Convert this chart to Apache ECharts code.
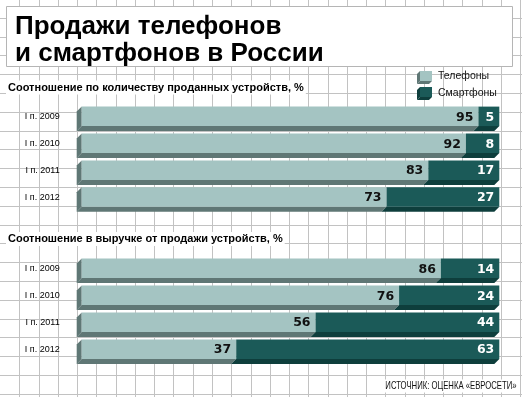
<!DOCTYPE html>
<html>
<head>
<meta charset="utf-8">
<script src="https://cdn.jsdelivr.net/npm/echarts@6/dist/echarts.min.js"></script>
<style>html,body{margin:0;padding:0;background:#fff}#c{width:522px;height:397px}</style>
</head>
<body>
<div id="c"></div>
<script>
const categories = ['I п. 2009', 'I п. 2010', 'I п. 2011', 'I п. 2012'];
const qtyPhones = [95, 92, 83, 73];
const qtySmart = [5, 8, 17, 27];
const revPhones = [86, 76, 56, 37];
const revSmart = [14, 24, 44, 63];
const seriesNames = ['Телефоны', 'Смартфоны'];
const titleText = 'Продажи телефонов\nи смартфонов в России';
const subtitle1 = 'Соотношение по количеству проданных устройств, %';
const subtitle2 = 'Соотношение в выручке от продажи устройств, %';
const sourceText = 'ИСТОЧНИК: ОЦЕНКА «ЕВРОСЕТИ»';

const LIGHT = {face: '#a4c4c2', shade: '#5f7775', text: '#111'};
const DARK = {face: '#1b5a58', shade: '#0e3e3c', text: '#fff'};
const DEPTH = 5;

function segData(starts, vals) {
  return vals.map((v, i) => [starts[i], starts[i] + v, i, v]);
}

function makeRender(col) {
  return function (params, api) {
    const s = api.value(0), e = api.value(1), c = api.value(2), v = api.value(3);
    const a = api.coord([s, c]);
    const b = api.coord([e, c]);
    const band = api.size([0, 1])[1];
    const h = band * 0.725;
    const yt = a[1] - h / 2, yb = yt + h;
    const d = DEPTH;
    const children = [];
    if (s === 0) {
      children.push({type: 'polygon', shape: {points: [[a[0], yt], [a[0], yb], [a[0] - d, yb + d], [a[0] - d, yt + d]]}, style: {fill: col.shade}});
    }
    children.push({type: 'polygon', shape: {points: [[a[0], yb], [b[0], yb], [b[0] - d, yb + d], [a[0] - d, yb + d]]}, style: {fill: col.shade}});
    children.push({type: 'rect', shape: {x: a[0], y: yt, width: b[0] - a[0], height: h}, style: {fill: col.face}});
    children.push({type: 'text', style: {text: String(v), x: b[0] - 5, y: (yt + yb) / 2 + 1, align: 'right', verticalAlign: 'middle', fill: col.text, fontSize: 12.5, fontWeight: 'bold', fontFamily: 'DejaVu Sans'}});
    return {type: 'group', children: children};
  };
}

const graphics = [];
for (let k = 1; k <= 27; k++) {
  const x = Math.round(19.27 * k) + 0.5;
  graphics.push({type: 'line', silent: true, shape: {x1: x, y1: 0, x2: x, y2: 397}, style: {stroke: '#c2c2c2', lineWidth: 1}});
}
for (let k = 0; k <= 20; k++) {
  const y = Math.floor(18.3 + 18.8 * k) + 0.5;
  graphics.push({type: 'line', silent: true, shape: {x1: 0, y1: y, x2: 522, y2: y}, style: {stroke: '#c2c2c2', lineWidth: 1}});
}
graphics.push({type: 'rect', silent: true, shape: {x: 6.5, y: 6.5, width: 506, height: 60}, style: {fill: '#fff', stroke: '#b5b5b5', lineWidth: 1}});
function legendIcon(y, col) {
  return [
    {type: 'polygon', shape: {points: [[420, y], [420, y + 10], [417, y + 13], [417, y + 3]]}, style: {fill: col.shade}},
    {type: 'polygon', shape: {points: [[420, y + 10], [432, y + 10], [429, y + 13], [417, y + 13]]}, style: {fill: col.shade}},
    {type: 'rect', shape: {x: 420, y: y, width: 12, height: 10}, style: {fill: col.face}}
  ];
}
graphics.push(...legendIcon(71, LIGHT));
graphics.push(...legendIcon(87, DARK));
graphics.push({type: 'text', x: 438, y: 76.5, style: {text: seriesNames[0], fill: '#111', fontSize: 10.5, fontFamily: 'Liberation Sans', verticalAlign: 'middle'}});
graphics.push({type: 'text', x: 438, y: 93, style: {text: seriesNames[1], fill: '#111', fontSize: 10.5, fontFamily: 'Liberation Sans', verticalAlign: 'middle'}});
graphics.push({type: 'text', x: 518, y: 386, scaleX: 0.735, style: {text: sourceText, x: 0, y: 0, fill: '#111', fontSize: 10.5, fontFamily: 'Liberation Sans', align: 'right', verticalAlign: 'middle', backgroundColor: '#fff', padding: [1, 2]}});

const chart = echarts.init(document.getElementById('c'), null, {renderer: 'canvas'});
const yAxisBase = {
  type: 'category', data: categories, inverse: true,
  axisLine: {show: false}, axisTick: {show: false}, splitLine: {show: false},
  axisLabel: {margin: 22, fontSize: 9, color: '#000', fontFamily: 'Liberation Sans'}
};
const xAxisBase = {type: 'value', min: 0, max: 100, show: false};
chart.setOption({
  animation: false,
  backgroundColor: '#fff',
  title: [
    {text: titleText, left: 15, top: 13.5, padding: 0, textStyle: {fontFamily: 'Liberation Sans', fontWeight: 'bold', fontSize: 26, lineHeight: 27, color: '#000'}},
    {text: subtitle1, left: 6, top: 80.5, padding: [1, 2], backgroundColor: '#fff', textStyle: {fontFamily: 'Liberation Sans', fontWeight: 'bold', fontSize: 11, lineHeight: 12, color: '#000'}},
    {text: subtitle2, left: 6, top: 232, padding: [1, 2], backgroundColor: '#fff', textStyle: {fontFamily: 'Liberation Sans', fontWeight: 'bold', fontSize: 11, lineHeight: 12, color: '#000'}}
  ],
  graphic: {elements: graphics},
  grid: [
    {left: 81.7, right: 22.7, top: 102.9, height: 107.6},
    {left: 81.7, right: 22.7, top: 254.8, height: 107.9}
  ],
  xAxis: [Object.assign({gridIndex: 0}, xAxisBase), Object.assign({gridIndex: 1}, xAxisBase)],
  yAxis: [Object.assign({gridIndex: 0}, yAxisBase), Object.assign({gridIndex: 1}, yAxisBase)],
  series: [
    {type: 'custom', name: seriesNames[0], xAxisIndex: 0, yAxisIndex: 0, clip: false, renderItem: makeRender(LIGHT), encode: {x: [0, 1], y: 2}, data: segData([0, 0, 0, 0], qtyPhones)},
    {type: 'custom', name: seriesNames[1], xAxisIndex: 0, yAxisIndex: 0, clip: false, renderItem: makeRender(DARK), encode: {x: [0, 1], y: 2}, data: segData(qtyPhones, qtySmart)},
    {type: 'custom', name: seriesNames[0], xAxisIndex: 1, yAxisIndex: 1, clip: false, renderItem: makeRender(LIGHT), encode: {x: [0, 1], y: 2}, data: segData([0, 0, 0, 0], revPhones)},
    {type: 'custom', name: seriesNames[1], xAxisIndex: 1, yAxisIndex: 1, clip: false, renderItem: makeRender(DARK), encode: {x: [0, 1], y: 2}, data: segData(revPhones, revSmart)}
  ]
});
</script>
</body>
</html>
